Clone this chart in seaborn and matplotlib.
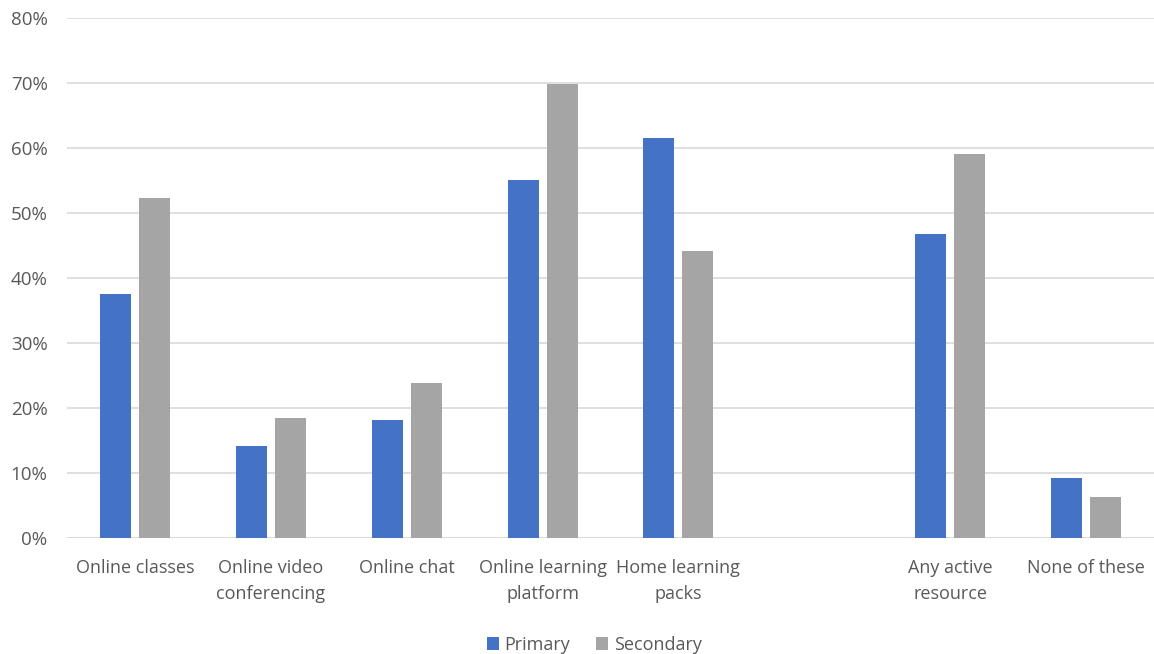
import matplotlib
matplotlib.use("Agg")
import matplotlib.pyplot as plt
import matplotlib.ticker as mticker
import pandas as pd
import seaborn as sns

CATEGORIES = [
    "Online classes",
    "Online video\nconferencing",
    "Online chat",
    "Online learning\nplatform",
    "Home learning\npacks",
    " ",
    "Any active\nresource",
    "None of these",
]
PLOTTED = [c for c in CATEGORIES if c.strip()]

PRIMARY = [37.6, 14.2, 18.2, 55.1, 61.5, 46.8, 9.3]
SECONDARY = [52.3, 18.5, 23.8, 69.8, 44.2, 59.1, 6.3]
SERIES = ["Primary", "Secondary"]
COLORS = ["#4472C4", "#A5A5A5"]
TEXT = "#595959"

df = pd.DataFrame({
    "category": PLOTTED * 2,
    "value": PRIMARY + SECONDARY,
    "level": [SERIES[0]] * len(PLOTTED) + [SERIES[1]] * len(PLOTTED),
})

sns.set_theme(style="white")
plt.rcParams["font.family"] = ["Open Sans", "DejaVu Sans"]

fig = plt.figure(figsize=(11.54, 6.54), dpi=100)
ax = fig.add_axes([67 / 1154, 1 - 538 / 654, 1087 / 1154, 520 / 654])

sns.barplot(data=df, x="category", y="value", hue="level", order=CATEGORIES,
            hue_order=SERIES, palette=COLORS, width=0.574, gap=0.205,
            saturation=1, linewidth=0, ax=ax, legend=True)

ax.set_ylim(0, 80)
ax.set_xlim(-0.5, len(CATEGORIES) - 0.5)
ax.yaxis.set_major_locator(mticker.MultipleLocator(10))
ax.yaxis.set_major_formatter(mticker.FuncFormatter(lambda v, _: f"{v:.0f}%"))
ax.grid(axis="y", color="#D9D9D9", linewidth=1.2)
ax.set_axisbelow(True)
sns.despine(ax=ax, left=True, bottom=True, top=True, right=True)
ax.axhline(0, color="#D9D9D9", linewidth=1.2, zorder=0.5)
ax.set_xlabel("")
ax.set_ylabel("")
ax.tick_params(axis="both", length=0, colors=TEXT, labelsize=13)
ax.tick_params(axis="y", pad=14, labelsize=13.5)
ax.tick_params(axis="x", pad=15)
for lbl in ax.get_xticklabels():
    lbl.set_linespacing(1.6)

handles, labels = ax.get_legend_handles_labels()
ax.legend(handles, labels, loc="center", bbox_to_anchor=(0.485, -0.205),
          ncol=2, frameon=False, fontsize=13, labelcolor=TEXT,
          handlelength=0.7, handleheight=0.7, handletextpad=0.3, columnspacing=1.4)

fig.savefig("out.png", dpi=100)
